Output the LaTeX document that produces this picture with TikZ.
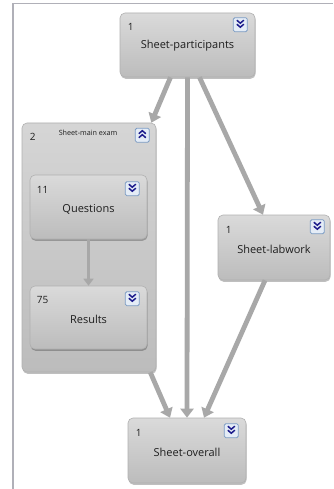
\documentclass[tikz,border=0pt]{standalone}
\usepackage{fontspec}
\setmainfont{Open Sans}
\usetikzlibrary{arrows.meta,shadows,calc}
\definecolor{boxtop}{HTML}{DADADA}
\definecolor{boxbot}{HTML}{BCBCBC}
\definecolor{boxdraw}{HTML}{B0B0B0}
\definecolor{arrgray}{HTML}{A8A8A8}
\definecolor{chev}{HTML}{1C1C8C}
\definecolor{togfill}{HTML}{E4ECF6}
\definecolor{togdraw}{HTML}{7C9CC4}
\definecolor{framec}{HTML}{B0B0B8}
\definecolor{txt}{HTML}{1E1E1E}
\begin{document}
\begin{tikzpicture}[x=1pt,y=-1pt,
  box/.style={rectangle, rounded corners=5pt, top color=boxtop, bottom color=boxbot,
    draw=boxdraw, line width=0.6pt, inner sep=0pt,
    drop shadow={shadow xshift=0.6pt, shadow yshift=-1.8pt, fill=black, opacity=0.25}},
  grp/.style={box, top color=boxtop!85!boxbot, bottom color=boxbot},
  arr/.style={draw=arrgray, line width=4.8pt, -{Triangle[length=9pt,width=13pt]}},
  thinarr/.style={draw=arrgray, line width=3pt, -{Triangle[length=7pt,width=10pt]}},
  num/.style={anchor=west, text=txt, font=\fontsize{10}{12}\selectfont, inner sep=0pt},
  ttl/.style={anchor=center, text=txt, font=\fontsize{11}{13}\selectfont, inner sep=0pt},
  togdn/.pic={
    \draw[togdraw, fill=togfill, rounded corners=1.5pt, line width=0.8pt] (-7,-7) rectangle (7,7);
    \draw[chev, line width=1.5pt] (-3.5,-4.5) -- (0,-1.5) -- (3.5,-4.5);
    \draw[chev, line width=1.5pt] (-3.5,-0.5) -- (0,2.5) -- (3.5,-0.5);
  },
  togup/.pic={
    \draw[togdraw, fill=togfill, rounded corners=1.5pt, line width=0.8pt] (-7,-7) rectangle (7,7);
    \draw[chev, line width=1.5pt] (-3.5,-1.5) -- (0,-4.5) -- (3.5,-1.5);
    \draw[chev, line width=1.5pt] (-3.5,2.5) -- (0,-0.5) -- (3.5,2.5);
  }
]
\useasboundingbox (0,0) rectangle (333,489);
\fill[white] (0,0) rectangle (333,489);
% frame
\draw[framec, line width=1.2pt] (13,489) -- (13,3.6) -- (333,3.6);

% nodes
\node[box, minimum width=135pt, minimum height=64pt] (p) at (187.5,45) {};
\node[grp, minimum width=134pt, minimum height=249pt] (g) at (89,247.5) {};
\node[box, minimum width=117pt, minimum height=64pt] (q) at (88.5,207) {};
\node[box, minimum width=117pt, minimum height=63pt] (r) at (88.5,317.5) {};
\node[box, minimum width=112pt, minimum height=65pt] (lab) at (274,247.5) {};
\node[box, minimum width=118pt, minimum height=65pt] (o) at (187,450.5) {};

% texts
\node[num] (pn) at ($(p.north west)+(8,14)$) {1};
\node[ttl] (pt) at ($(p.center)+(0,1)$) {Sheet-participants};
\node[num] (gn) at ($(g.north west)+(8,14)$) {2};
\node[ttl, font=\fontsize{7.2}{8}\selectfont] (gt) at ($(g.north)+(-1,10)$) {Sheet-main exam};
\node[num] (qn) at ($(q.north west)+(7,15)$) {11};
\node[ttl] (qt) at ($(q.center)+(0,2)$) {Questions};
\node[num] (rn) at ($(r.north west)+(7,14)$) {75};
\node[ttl] (rt) at ($(r.center)+(0,2)$) {Results};
\node[num] (ln) at ($(lab.north west)+(8,15)$) {1};
\node[ttl] (lt) at ($(lab.center)+(0,2)$) {Sheet-labwork};
\node[num] (on) at ($(o.north west)+(8,15)$) {1};
\node[ttl] (ot) at ($(o.center)+(0,1.5)$) {Sheet-overall};

% toggles
\pic at ($(p.north east)+(-15,12)$) {togdn};
\pic at ($(g.north east)+(-14,12.5)$) {togup};
\pic at ($(q.north east)+(-15,14)$) {togdn};
\pic at ($(r.north east)+(-15,13)$) {togdn};
\pic at ($(lab.north east)+(-13,12)$) {togdn};
\pic at ($(o.north east)+(-15,13)$) {togdn};

% connectors
\draw[arr] ([xshift=-17pt]p.south) -- ([xshift=-5pt]g.north east);
\draw[arr] (p.south) -- (o.north);
\draw[arr] ([xshift=12pt]p.south) -- ([xshift=-11pt]lab.north);
\draw[arr] ([xshift=-6pt]g.south east) -- ([xshift=-17pt]o.north);
\draw[arr] ([xshift=-9pt]lab.south) -- ([xshift=17pt]o.north);
\draw[thinarr] (q.south) -- (r.north);
\end{tikzpicture}
\end{document}
